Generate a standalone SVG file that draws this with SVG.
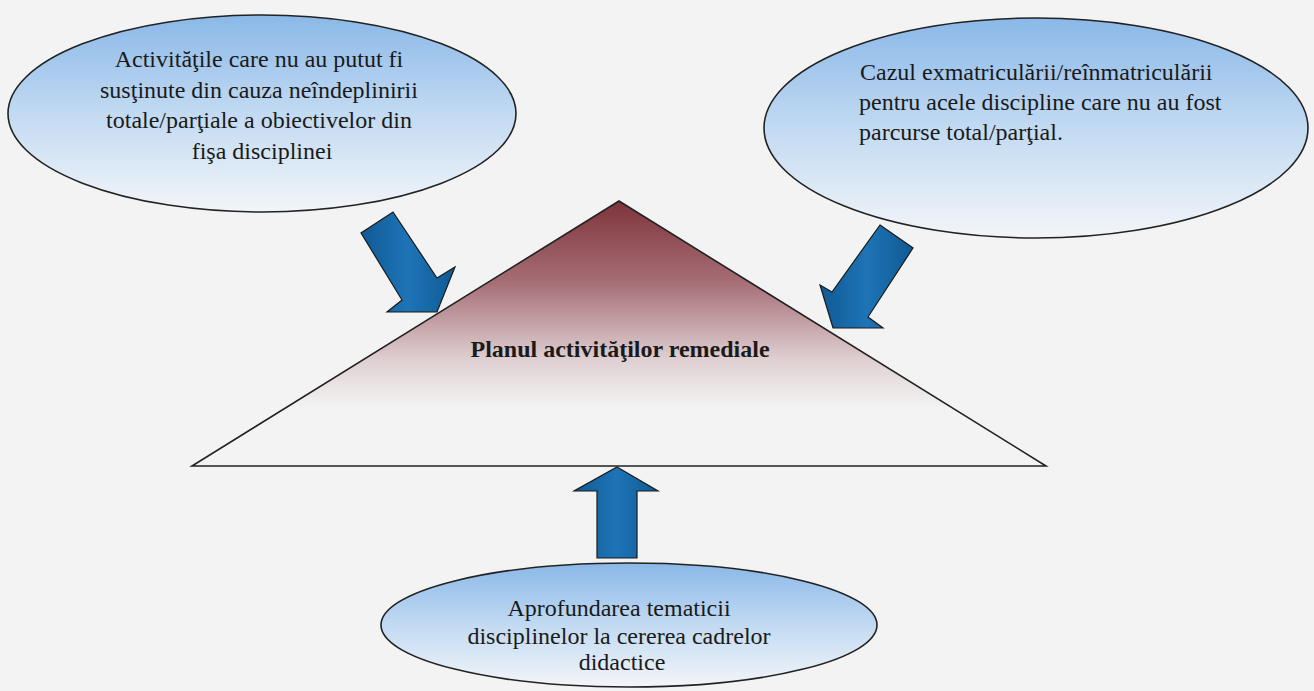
<svg xmlns="http://www.w3.org/2000/svg" width="1314" height="691" viewBox="0 0 1314 691">
<defs>
<linearGradient id="gBlue" x1="0" y1="0" x2="0" y2="1">
<stop offset="0" stop-color="#8ab8e8"/>
<stop offset="0.5" stop-color="#c2daf2"/>
<stop offset="1" stop-color="#f3f5f8"/>
</linearGradient>
<linearGradient id="gTri" x1="0" y1="0" x2="0" y2="1">
<stop offset="0" stop-color="#7f343c"/>
<stop offset="0.3" stop-color="#a56c74"/>
<stop offset="0.6" stop-color="#dfd0d2"/>
<stop offset="0.78" stop-color="#f3f3f3"/>
<stop offset="1" stop-color="#f3f3f3"/>
</linearGradient>
<linearGradient id="gArrow" x1="0" y1="0" x2="1" y2="0">
<stop offset="0" stop-color="#0f5a95"/>
<stop offset="0.5" stop-color="#1e74b6"/>
<stop offset="1" stop-color="#0f5a95"/>
</linearGradient>
<style>
.ell{fill:url(#gBlue);stroke:#222;stroke-width:1.6}
.tri{fill:url(#gTri);stroke:#222;stroke-width:1.6}
.arr{fill:url(#gArrow);stroke:#1a1a1a;stroke-width:1.2;stroke-linejoin:miter}
.t{font-family:"Liberation Serif","Times New Roman",serif;font-size:24px;fill:#1a1a1a}
.b{font-family:"Liberation Serif","Times New Roman",serif;font-size:24px;font-weight:bold;fill:#1a1a1a}
</style>
</defs>
<rect x="0" y="0" width="1314" height="691" fill="#f3f3f3"/>

<g id="plan">
<polygon class="tri" points="619,201 192,466 1046,466"/>
<text class="b" x="620" y="357" text-anchor="middle">Planul activităţilor remediale</text>
</g>

<g id="connectors">
<polygon class="arr" points="393,212 437,278 455,267 437,312 387,312 402,300 361,233"/>
<polygon class="arr" points="880,225 913,248 868,317 883,328 833,328 820,285 832,292"/>
<polygon class="arr" points="617,467 658,491 637,491 637,558 597,558 597,491 574,491"/>
</g>

<g id="activitati">
<ellipse class="ell" cx="262" cy="113.5" rx="254" ry="98.5"/>
<text class="t" text-anchor="middle">
<tspan x="262" y="67">Activităţile care nu au putut fi</tspan>
<tspan x="262" y="98">susţinute din cauza neîndeplinirii</tspan>
<tspan x="262" y="128">totale/parţiale a obiectivelor din</tspan>
<tspan x="262" y="159">fişa disciplinei</tspan>
</text>
</g>

<g id="exmatriculare">
<ellipse class="ell" cx="1036" cy="128" rx="272" ry="110"/>
<text class="t">
<tspan x="860" y="80">Cazul exmatriculării/reînmatriculării</tspan>
<tspan x="859" y="110">pentru acele discipline care nu au fost</tspan>
<tspan x="859" y="140">parcurse total/parţial.</tspan>
</text>
</g>

<g id="aprofundare">
<ellipse class="ell" cx="629" cy="625" rx="248" ry="62"/>
<text class="t" text-anchor="middle">
<tspan x="622" y="616">Aprofundarea tematicii</tspan>
<tspan x="622" y="644">disciplinelor la cererea cadrelor</tspan>
<tspan x="622" y="670">didactice</tspan>
</text>
</g>
</svg>
